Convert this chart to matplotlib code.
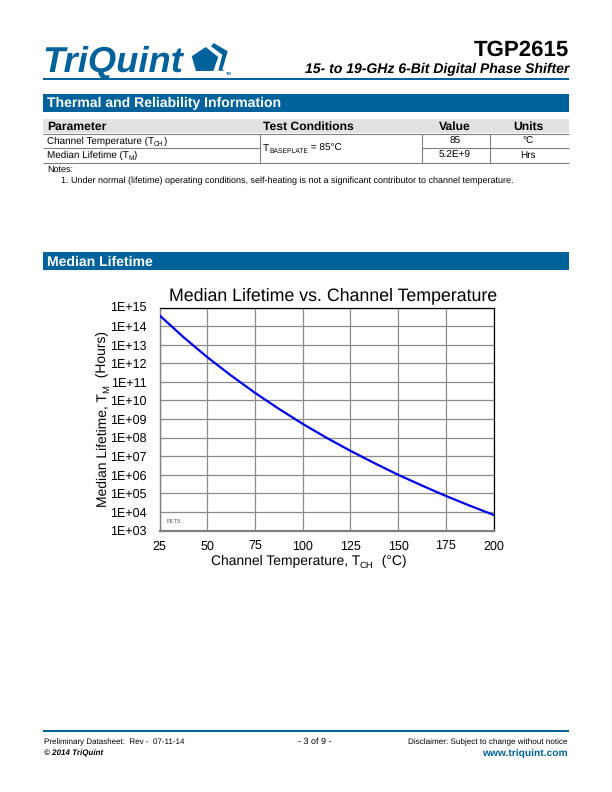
import matplotlib
matplotlib.use('Agg')
import matplotlib.pyplot as plt
from matplotlib.patches import Rectangle, Polygon
from matplotlib.ticker import FixedLocator, NullLocator

plt.rcParams['font.family'] = ['Liberation Sans', 'DejaVu Sans']
plt.rcParams['text.hinting'] = 'no_hinting'

# chart data
channel_temp = [25, 37.5, 50, 62.5, 75, 87.5, 100, 112.5, 125, 137.5, 150, 162.5, 175, 187.5, 200]
log_lifetime = [14.58, 13.41, 12.33, 11.34, 10.41, 9.55, 8.74, 7.99, 7.29, 6.63, 6.00, 5.42, 4.86, 4.34, 3.84]
x_ticks = [25, 50, 75, 100, 125, 150, 175, 200]
y_exponents = list(range(3, 16))
y_tick_labels = [f"1E+{e:02d}" for e in y_exponents]

# table text, second item of a pair marks a subscript
table_header = ["Parameter", "Test Conditions", "Value", "Units"]
table_params = [
    [("Channel Temperature (T", False), ("CH", True), (")", False)],
    [("Median Lifetime (T", False), ("M", True), (")", False)],
]
table_values = ["85", "5.2E+9"]
table_units = ["°C", "Hrs"]
baseplate_label = [("T", False), ("BASEPLATE", True), (" = 85°C", False)]
x_label = [("Channel Temperature, T", False), ("CH", True), ("  (°C)", False)]
y_label = [("Median Lifetime, T", False), ("M", True), ("  (Hours)", False)]

BLUE = '#00629b'
W, H = 612, 792
SUB_SCALE = 0.68


def px_rect(page, x0, y0, x1, y1, color):
    page.add_patch(Rectangle((x0, y0), x1 - x0, y1 - y0, facecolor=color, edgecolor='none'))


def px_line(page, x0, y0, x1, y1, color='#808080', lw=0.8):
    page.plot([x0, x1], [y0, y1], color=color, lw=lw, solid_capstyle='butt')


def text_width(fig, s, fontsize):
    # the bar keeps trailing spaces in the measured width
    r = fig.canvas.get_renderer()
    t1 = fig.text(0, 0, s + "|", fontsize=fontsize)
    t2 = fig.text(0, 0, "|", fontsize=fontsize)
    w = t1.get_window_extent(r).width - t2.get_window_extent(r).width
    t1.remove()
    t2.remove()
    return w


def sub_text(page, x, y, parts, fontsize, rotated=False, center=False):
    # x, y is the start of the baseline, or its middle with center=True
    sizes = [fontsize * SUB_SCALE if is_sub else fontsize for _, is_sub in parts]
    widths = [text_width(page.figure, s, fs) for (s, _), fs in zip(parts, sizes)]
    pos = -sum(widths) / 2 if center else 0
    drop = fontsize * 100 / 72 * 0.2
    for (s, is_sub), fs, w in zip(parts, sizes, widths):
        off = drop if is_sub else 0
        if rotated:
            page.text(x + off, y - pos, s, fontsize=fs, rotation=90, rotation_mode='anchor', ha='left', va='baseline')
        else:
            page.text(x + pos, y + off, s, fontsize=fs, ha='left', va='baseline')
        pos += w


fig = plt.figure(figsize=(W / 100, H / 100), dpi=100)

# page furniture is drawn in pixel coordinates
page = fig.add_axes([0, 0, 1, 1])
page.set_xlim(0, W)
page.set_ylim(H, 0)
page.axis('off')

# header
page.text(42, 72, "TriQuint", fontsize=26.2, fontweight='bold', style='italic', color=BLUE, va='baseline')
page.add_patch(Polygon([(205.7, 47), (191.7, 56.3), (196, 71), (213.3, 71), (218.3, 57)], facecolor=BLUE, edgecolor='none'))
page.add_patch(Polygon([(211, 46.3), (213.7, 43), (227.7, 51.3), (222.3, 69.7), (225, 70.7), (218.3, 70.7), (222.3, 54.7)],
                       facecolor=BLUE, edgecolor='none'))
page.text(225.5, 75, "TM", fontsize=3, color=BLUE, fontweight='bold')
page.text(569, 56, "TGP2615", fontsize=16, fontweight='bold', ha='right', va='baseline')
page.text(569, 73.3, "15- to 19-GHz 6-Bit Digital Phase Shifter", fontsize=10.05, fontweight='bold', style='italic',
          ha='right', va='baseline')
px_rect(page, 43, 78, 569, 80, BLUE)

# thermal section
px_rect(page, 43, 94, 569, 112, BLUE)
page.text(47, 107, "Thermal and Reliability Information", fontsize=10.1, fontweight='bold', color='white', va='baseline')
px_rect(page, 43, 119, 569, 133, '#e2e2e2')
for tx, label, ha in zip([47, 263, 455, 528], table_header, ['left', 'left', 'center', 'center']):
    page.text(tx, 130, label, fontsize=8.7, fontweight='bold', ha=ha, va='baseline')
px_line(page, 43, 133.5, 569, 133.5)
px_line(page, 43, 148, 259.5, 148)
px_line(page, 421.5, 148, 569, 148)
px_line(page, 43, 162.5, 569, 162.5)
px_line(page, 259.5, 133.5, 259.5, 162.5)
px_line(page, 421.5, 133.5, 421.5, 162.5)
px_line(page, 489.5, 133.5, 489.5, 162.5)
sub_text(page, 263, 151, baseplate_label, 7.2)
for i in range(2):
    base = 143.7 + i * 14.5
    sub_text(page, 47, base, table_params[i], 7.1)
    page.text(455, base, table_values[i], fontsize=7.2, ha='center', va='baseline')
    page.text(528, base, table_units[i], fontsize=7.2, ha='center', va='baseline')
page.text(47, 172, "Notes:", fontsize=6.5, va='baseline')
page.text(61, 183, "1. Under normal (lifetime) operating conditions, self-heating is not a significant contributor to channel temperature.",
          fontsize=6.45, va='baseline')

# median lifetime section
px_rect(page, 43, 252, 569, 270, BLUE)
page.text(47, 266, "Median Lifetime", fontsize=10.1, fontweight='bold', color='white', va='baseline')

# footer
px_rect(page, 43, 730, 569, 732, BLUE)
page.text(44, 744, "Preliminary Datasheet:  Rev -  07-11-14", fontsize=5.8, va='baseline')
page.text(44, 755, "© 2014 TriQuint", fontsize=5.8, fontweight='bold', style='italic', va='baseline')
page.text(315, 744, "- 3 of 9 -", fontsize=6.5, ha='center', va='baseline')
page.text(568, 744, "Disclaimer: Subject to change without notice", fontsize=5.85, ha='right', va='baseline')
page.text(568, 756, "www.triquint.com", fontsize=7.35, fontweight='bold', color=BLUE, ha='right', va='baseline')

# chart
left, right, top, bottom = 159.5, 493.5, 307.5, 530.5
ax = fig.add_axes([left / W, 1 - bottom / H, (right - left) / W, (bottom - top) / H])
ax.set_yscale('log')
ax.plot(channel_temp, [10 ** v for v in log_lifetime], color='#0000e6', lw=1.6, zorder=3)
ax.set_xlim(x_ticks[0], x_ticks[-1])
ax.set_ylim(10.0 ** y_exponents[0], 10.0 ** y_exponents[-1])
ax.set_xticks(x_ticks)
ax.yaxis.set_major_locator(FixedLocator([10.0 ** e for e in y_exponents]))
ax.yaxis.set_minor_locator(NullLocator())
ax.set_yticklabels(y_tick_labels)
ax.tick_params(length=0, labelsize=9)
ax.tick_params(axis='y', pad=9)
ax.tick_params(axis='x', pad=7)
ax.grid(True, color='#8c8c8c', lw=0.9)
ax.set_axisbelow(True)
ax.spines['top'].set_color('black')
ax.spines['right'].set_color('black')
ax.spines['left'].set_color('#808080')
ax.spines['bottom'].set_color('#808080')
ax.spines['top'].set_linewidth(0.9)
ax.spines['right'].set_linewidth(0.9)
ax.spines['left'].set_linewidth(1.0)
ax.spines['bottom'].set_linewidth(1.6)

page.text(333, 300, "Median Lifetime vs. Channel Temperature", fontsize=12.8, ha='center', va='baseline')
sub_text(page, 308.5, 565, x_label, 10, center=True)
sub_text(page, 106, 419, y_label, 10, rotated=True, center=True)
ax.text(0.02, 0.03, "FET5", fontsize=4.2, color='#555555', transform=ax.transAxes, va='bottom', zorder=4)

fig.savefig('out.png', dpi=100)
